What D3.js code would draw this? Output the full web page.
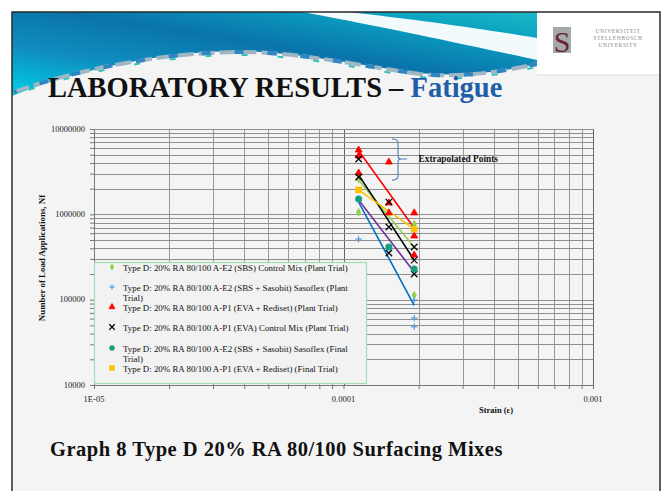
<!DOCTYPE html>
<html><head><meta charset="utf-8">
<script src="https://cdn.jsdelivr.net/npm/d3@7"></script>
<style>html,body{margin:0;padding:0;background:#fff;}svg{display:block;}</style>
</head><body>
<svg id="c" width="667" height="491"></svg>
<script>
// ---------- data ----------
const titleMain = "LABORATORY RESULTS \u2013 ";
const titleAccent = "Fatigue";
const caption = "Graph 8 Type D 20% RA 80/100 Surfacing Mixes";
const xTitle = "Strain (\u03b5)";
const yTitle = "Number of Load Applications, Nf";
const xTickValues = [1e-5, 1e-4, 1e-3];
const xTickLabels = ["1E-05", "0.0001", "0.001"];
const yTickValues = [1e4, 1e5, 1e6, 1e7];
const yTickLabels = ["10000", "100000", "1000000", "10000000"];
const seriesNames = [
  ["Type D: 20% RA 80/100 A-E2 (SBS) Control Mix (Plant Trial)"],
  ["Type D: 20% RA 80/100 A-E2 (SBS + Sasobit) Sasoflex (Plant", "Trial)"],
  ["Type D: 20% RA 80/100 A-P1 (EVA + Rediset) (Plant Trial)"],
  ["Type D: 20% RA 80/100 A-P1 (EVA) Control Mix (Plant Trial)"],
  ["Type D: 20% RA 80/100 A-E2 (SBS + Sasobit) Sasoflex (Final", "Trial)"],
  ["Type D: 20% RA 80/100 A-P1 (EVA + Rediset) (Final Trial)"]
];
// measured points (strain, cycles)
const greenStrain  = [1.15e-4, 1.15e-4, 1.92e-4, 1.92e-4];
const greenN       = [1.06e6, 2.6e6, 7.7e5, 1.13e5];
const blueStrain   = [1.15e-4, 1.92e-4, 1.92e-4, 1.92e-4];
const blueN        = [5.13e5, 9.9e4, 6.1e4, 4.8e4];
const redStrain    = [1.15e-4, 1.15e-4, 1.15e-4, 1.52e-4, 1.52e-4, 1.52e-4, 1.92e-4, 1.92e-4, 1.92e-4];
const redN         = [5.67e6, 4.83e6, 3.05e6, 4.10e6, 1.36e6, 1.04e6, 1.04e6, 5.57e5, 3.33e5];
const blackStrain  = [1.15e-4, 1.15e-4, 1.52e-4, 1.52e-4, 1.52e-4, 1.92e-4, 1.92e-4, 1.92e-4];
const blackN       = [4.45e6, 2.74e6, 1.39e6, 7.1e5, 3.52e5, 4.14e5, 2.91e5, 2.0e5];
const tealStrain   = [1.15e-4, 1.52e-4, 1.92e-4];
const tealN        = [1.51e6, 4.14e5, 2.28e5];
const orangeStrain = [1.15e-4, 1.92e-4];
const orangeN      = [1.93e6, 6.7e5];
// power trendlines (start / end values)
const trendStrain  = [1.15e-4, 1.92e-4];
const greenTrend   = [2.52e6, 4.14e5];
const blueTrend    = [1.39e6, 8.6e4];
const redTrend     = [5.55e6, 6.9e5];
const blackTrend   = [2.9e6, 2.91e5];
const tealTrend    = [1.47e6, 2.11e5];
const orangeTrend  = [1.93e6, 6.7e5];
// annotation
const annoText = "Extrapolated Points";
const annoStrain = [1.565e-4, 1.654e-4, 1.797e-4, 2.0e-4];
const annoN = [7.63e6, 4.45e6, 2.52e6];

// ---------- styling ----------
const series = [
  {name: seriesNames[0], xs: greenStrain, ys: greenN, trend: greenTrend, marker: "diamond", color: "#92d050", lineColor: "#92d050"},
  {name: seriesNames[1], xs: blueStrain, ys: blueN, trend: blueTrend, marker: "plus", color: "#3b8fe0", lineColor: "#0070c0"},
  {name: seriesNames[2], xs: redStrain, ys: redN, trend: redTrend, marker: "triangle", color: "#ff0000", lineColor: "#ff0000"},
  {name: seriesNames[3], xs: blackStrain, ys: blackN, trend: blackTrend, marker: "x", color: "#000000", lineColor: "#000000"},
  {name: seriesNames[4], xs: tealStrain, ys: tealN, trend: tealTrend, marker: "circle", color: "#1a9e80", lineColor: "#7030a0"},
  {name: seriesNames[5], xs: orangeStrain, ys: orangeN, trend: orangeTrend, marker: "square", color: "#ffc000", lineColor: "#ffc000"}
];

const svg = d3.select("#c");
const serif = "'Liberation Serif','Times New Roman',serif";

// ---------- slide background ----------
svg.append("rect").attr("x",0).attr("y",0).attr("width",667).attr("height",491).attr("fill","#ffffff");
svg.append("rect").attr("x",12).attr("y",12).attr("width",648).attr("height",480).attr("fill","#f4f4f4");

const defs = svg.append("defs");
const g1 = defs.append("linearGradient").attr("id","hdr").attr("x1","0").attr("y1","1").attr("x2","1").attr("y2","0");
g1.append("stop").attr("offset","0%").attr("stop-color","#00d0e6");
g1.append("stop").attr("offset","30%").attr("stop-color","#0f8cbf");
g1.append("stop").attr("offset","55%").attr("stop-color","#0a74aa");
g1.append("stop").attr("offset","80%").attr("stop-color","#0a9ec0");
g1.append("stop").attr("offset","100%").attr("stop-color","#1ab8c8");

svg.append("path")
  .attr("d","M12,12 H537 V64 C500,72 462,77 420,73 C360,66 300,52 240,51 C170,51 80,68 12,96 Z")
  .attr("fill","url(#hdr)");
svg.append("path")
  .attr("d","M302,12 H348 C420,20 490,30 537,38 V60 C480,48 400,30 302,12 Z")
  .attr("fill","#ffffff").attr("opacity",0.95);
const bandPath = "M14,92 C80,68 170,52 240,52 C300,52 360,66 420,74 C462,78 500,72 537,64";
svg.append("path").attr("d",bandPath).attr("fill","none").attr("stroke","#9fb6c4").attr("stroke-width",4).attr("stroke-dasharray","16,5");
svg.append("path").attr("d",bandPath).attr("fill","none").attr("stroke","#2f86c4").attr("stroke-width",4).attr("stroke-dasharray","9,24").attr("stroke-dashoffset",6);
svg.append("path").attr("d",bandPath).attr("fill","none").attr("stroke","#35c3b8").attr("stroke-width",2).attr("stroke-dasharray","6,30").attr("stroke-dashoffset",20).attr("transform","translate(0,3)");

// logo
svg.append("rect").attr("x",537).attr("y",13).attr("width",122).attr("height",62).attr("fill","#ffffff");
svg.append("line").attr("x1",537).attr("x2",659).attr("y1",75).attr("y2",75).attr("stroke","#dddddd");
svg.append("rect").attr("x",553).attr("y",27).attr("width",18).attr("height",26).attr("fill","#a3aaa8");
svg.append("text").attr("x",562).attr("y",52).attr("text-anchor","middle").attr("font-family",serif).attr("font-size",30).attr("fill","#6e1f3a").text("S");
[["UNIVERSITEIT",33],["STELLENBOSCH",40],["UNIVERSITY",47]].forEach(([t,yy])=>{
  svg.append("text").attr("x",618).attr("y",yy).attr("text-anchor","middle").attr("font-family",serif).attr("font-size",5.5).attr("letter-spacing",0.6).attr("fill","#8a8a8a").text(t);
});

// frame
svg.append("path").attr("d","M12,491 V12 H660 V491").attr("fill","none").attr("stroke","#2a2a2a").attr("stroke-width",1.5);

// title
const tt = svg.append("text").attr("x",48).attr("y",97).attr("font-family",serif).attr("font-weight","bold").attr("font-size",28.5).attr("fill","#111");
tt.append("tspan").text(titleMain);
tt.append("tspan").attr("fill","#1f5fa8").text(titleAccent);

// caption
svg.append("text").attr("x",50).attr("y",456).attr("font-family",serif).attr("font-weight","bold").attr("font-size",20.5).attr("letter-spacing",0.5).attr("fill","#111").text(caption);

// ---------- chart ----------
const x = d3.scaleLog().domain([1e-5, 1e-3]).range([94, 593]);
const y = d3.scaleLog().domain([1e4, 1e7]).range([385, 129]);

const grid = svg.append("g");
grid.selectAll("line.v").data(x.ticks()).join("line")
  .attr("x1",d=>Math.round(x(d))+0.5).attr("x2",d=>Math.round(x(d))+0.5)
  .attr("y1",y(1e7)).attr("y2",y(1e4))
  .attr("stroke",d=>Math.abs(Math.log10(d)-Math.round(Math.log10(d)))<1e-9 ? "#666":"#999").attr("stroke-width",1);
grid.selectAll("line.h").data(y.ticks()).join("line")
  .attr("y1",d=>Math.round(y(d))+0.5).attr("y2",d=>Math.round(y(d))+0.5)
  .attr("x1",x(1e-5)).attr("x2",x(1e-3))
  .attr("stroke","#8f8f8f").attr("stroke-width",1);

// axes
const xAxis = d3.axisBottom(x).tickValues(x.ticks()).tickSize(4).tickFormat("");
const gx = svg.append("g").attr("transform",`translate(0,${y(1e4)})`).call(xAxis);
gx.selectAll("path,line").attr("stroke","#777");
const yAxis = d3.axisLeft(y).tickValues(y.ticks()).tickSize(4).tickFormat("");
const gy = svg.append("g").attr("transform",`translate(${x(1e-5)},0)`).call(yAxis);
gy.selectAll("path,line").attr("stroke","#777");

svg.append("g").selectAll("text").data(xTickValues).join("text")
  .attr("x",d=>x(d)).attr("y",402).attr("text-anchor","middle")
  .attr("font-family",serif).attr("font-size",8.5).attr("fill","#222")
  .text((d,i)=>xTickLabels[i]);
svg.append("g").selectAll("text").data(yTickValues).join("text")
  .attr("x",85).attr("y",d=>y(d)+2.8).attr("text-anchor","end")
  .attr("font-family",serif).attr("font-size",8.5).attr("fill","#222")
  .text((d,i)=>yTickLabels[i]);

svg.append("text").attr("x",496).attr("y",413).attr("text-anchor","middle")
  .attr("font-family",serif).attr("font-weight","bold").attr("font-size",8.5).attr("fill","#111").text(xTitle);
svg.append("text").attr("transform","translate(45,258) rotate(-90)").attr("text-anchor","middle")
  .attr("font-family",serif).attr("font-weight","bold").attr("font-size",8.9).attr("fill","#111").text(yTitle);

// legend box
const lg = svg.append("g");
lg.append("rect").attr("x",94.5).attr("y",262.5).attr("width",272).attr("height",121).attr("fill","#f2f2f2").attr("stroke","#a6dbb9").attr("stroke-width",1.2);

// marker drawing
function marker(g, type, color, size){
  const s = size;
  if(type==="diamond"){
    g.append("path").attr("d",d3.symbol(d3.symbolDiamond, s*s*0.55)()).attr("fill",color);
  } else if(type==="plus"){
    g.append("path").attr("d",`M${-s/2},0H${s/2}M0,${-s/2}V${s/2}`).attr("stroke",color).attr("stroke-width",1).attr("fill","none");
  } else if(type==="triangle"){
    g.append("path").attr("d",d3.symbol(d3.symbolTriangle, s*s*0.5)()).attr("fill",color).attr("stroke",color).attr("stroke-width",0.8).attr("stroke-linejoin","round");
  } else if(type==="x"){
    g.append("path").attr("d",`M${-s/2},${-s/2}L${s/2},${s/2}M${-s/2},${s/2}L${s/2},${-s/2}`).attr("stroke",color).attr("stroke-width",1.2).attr("fill","none");
  } else if(type==="circle"){
    g.append("circle").attr("r",s/2).attr("fill",color);
  } else if(type==="square"){
    g.append("rect").attr("x",-s/2).attr("y",-s/2).attr("width",s).attr("height",s).attr("fill",color);
  }
}

const legendY = [268, 288, 308, 328, 349, 369];
series.forEach((sr,i)=>{
  const m = lg.append("g").attr("transform",`translate(112,${legendY[i]-1})`);
  marker(m, sr.marker, sr.color, 5.5);
  sr.name.forEach((line,k)=>{
    lg.append("text").attr("x",123).attr("y",legendY[i]+2.8+k*10)
      .attr("font-family",serif).attr("font-size",8.9).attr("fill","#111").text(line);
  });
});

// trendlines
const line = d3.line().x(d=>x(d[0])).y(d=>y(d[1]));
series.forEach(sr=>{
  svg.append("path").datum(trendStrain.map((s,i)=>[s, sr.trend[i]]))
    .attr("d",line).attr("fill","none").attr("stroke",sr.lineColor).attr("stroke-width",1.6);
});

// points
series.forEach(sr=>{
  sr.xs.forEach((s,i)=>{
    const g = svg.append("g").attr("transform",`translate(${x(s)},${y(sr.ys[i])})`);
    marker(g, sr.marker, sr.color, sr.marker==="circle"?7:6.5);
  });
});

// annotation bracket
const bx0 = x(annoStrain[0]), bx1 = x(annoStrain[1]), bx2 = x(annoStrain[2]);
const by0 = y(annoN[0]), bym = y(annoN[1]), by1 = y(annoN[2]);
svg.append("path")
  .attr("d",`M${bx0},${by0} Q${bx1},${by0} ${bx1},${by0+4} V${bym-3} Q${bx1},${bym} ${bx1+3},${bym} H${bx2} M${bx1+3},${bym} Q${bx1},${bym} ${bx1},${bym+3} V${by1-4} Q${bx1},${by1} ${bx0},${by1}`)
  .attr("fill","none").attr("stroke","#4f81bd").attr("stroke-width",1.1);
svg.append("text").attr("x",x(annoStrain[3])).attr("y",bym+3).attr("font-family",serif).attr("font-weight","bold").attr("font-size",9.3).attr("fill","#111").text(annoText);
</script>
</body></html>
